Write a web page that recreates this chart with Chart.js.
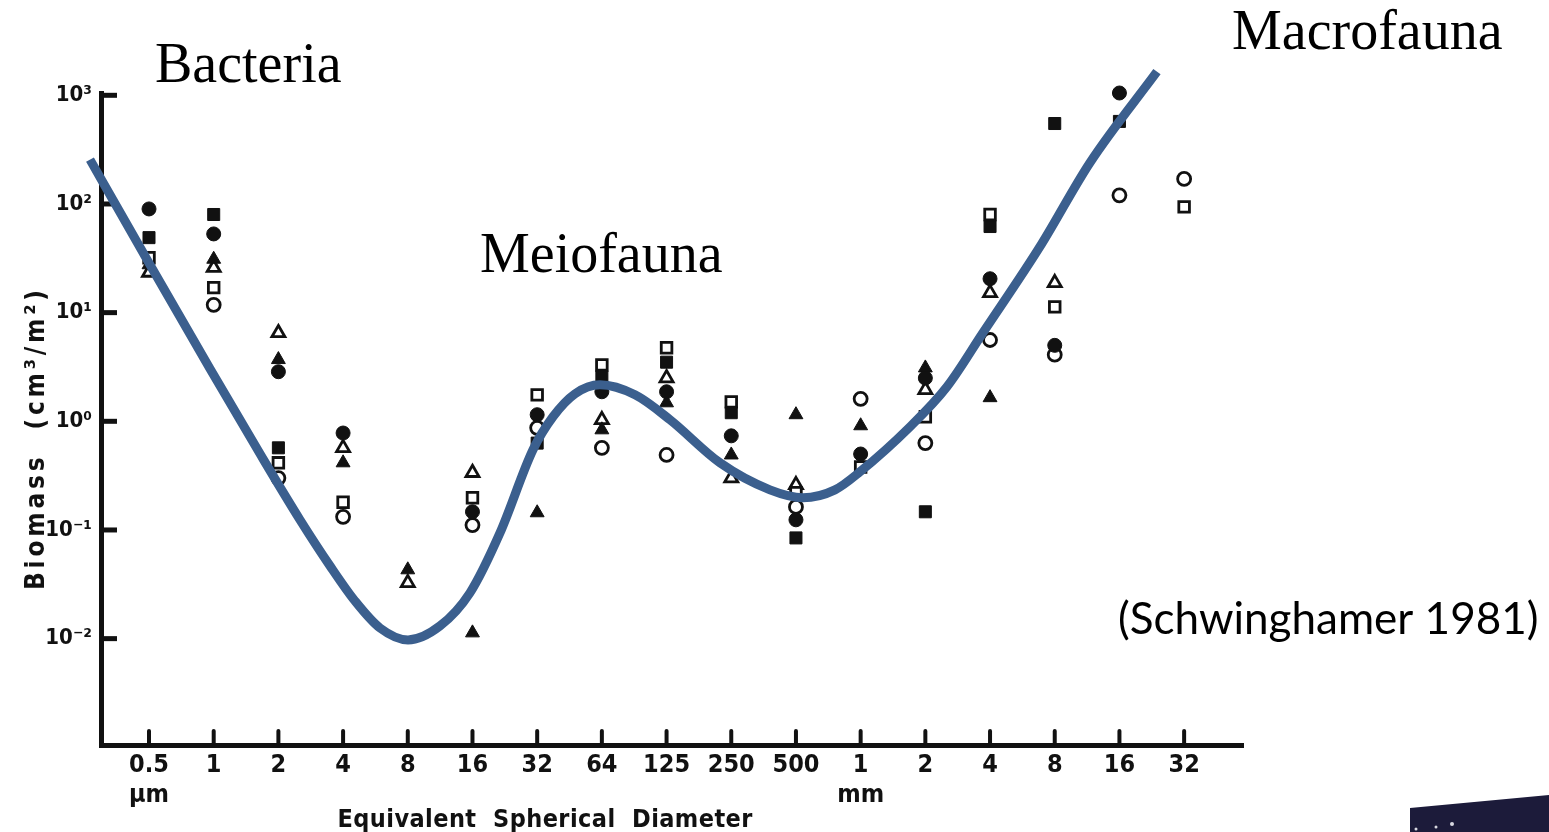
<!DOCTYPE html>
<html>
<head>
<meta charset="utf-8">
<script src="https://cdn.jsdelivr.net/npm/chart.js@4/dist/chart.umd.min.js"></script>
<style>
  html, body { margin: 0; padding: 0; background: #fff; }
  #wrap { width: 1549px; height: 832px; position: relative; }
</style>
</head>
<body>
<div id="wrap"><canvas id="c" width="1549" height="832"></canvas></div>
<script>
// Size classes (equivalent spherical diameter)
const categories = ['0.5', '1', '2', '4', '8', '16', '32', '64', '125', '250', '500', '1', '2', '4', '8', '16', '32'];
const unitLabels = { 0: 'µm', 11: 'mm' };

// Biomass decades on the y axis
const yTickValues = [0.01, 0.1, 1, 10, 100, 1000];
const yTickLabels = ['10⁻²', '10⁻¹', '10⁰', '10¹', '10²', '10³'];

// Biomass (cm3/m2) per size class, one array per station symbol
const filledCircle   = [90, 53, 2.86, 0.78, null, 0.147, 1.15, 1.87, 1.87, 0.735, 0.124, 0.50, 2.5, 20.5, 5.0, 1050, null];
const openCircle     = [null, 11.8, 0.30, 0.132, null, 0.111, 0.87, 0.57, 0.49, null, 0.163, 1.61, 0.63, 5.6, 4.1, 120, 170];
const filledSquare   = [49, 80, 0.57, null, null, null, 0.63, 2.57, 3.5, 1.2, 0.0845, null, 0.147, 62, 550, 575, null];
const openSquare     = [32, 17, 0.415, 0.18, null, 0.198, 1.75, 3.3, 4.75, 1.51, 0.22, 0.38, 1.1, 80, 11.3, null, 94];
const filledTriangle = [27.6, 31, 3.7, 0.415, 0.043, 0.0113, 0.144, 0.835, 1.48, 0.49, 1.15, 0.91, 3.1, 1.65, null, null, null];
const openTriangle   = [23.4, 25.9, 6.5, 0.57, 0.0326, 0.336, null, 1.03, 2.5, 0.30, 0.26, null, 1.95, 15.2, 18.8, null, null];

// Hand-fitted biomass spectrum curve (position along the size axis, biomass)
const curveSize    = [-0.912, 0.015, 0.943, 1.716, 2.334, 2.798, 3.184, 3.570, 4.003, 4.498, 4.961, 5.425, 5.935, 6.244, 6.584, 6.971, 7.512, 8.053, 8.825, 9.598, 10.108, 10.603, 10.989, 11.762, 12.334, 12.890, 13.771, 14.544, 15.580];
const curveBiomass = [256, 27.6, 3.04, 0.502, 0.124, 0.0467, 0.0222, 0.01253, 0.00973, 0.01309, 0.0264, 0.0940, 0.547, 1.10, 1.79, 2.168, 1.754, 1.033, 0.415, 0.234, 0.198, 0.234, 0.343, 0.889, 2.08, 6.53, 40.5, 240, 1652];

const INK = '#111';
const BLUE = '#3b5f8e';

function toPoints(arr) {
  const pts = [];
  arr.forEach((v, i) => { if (v !== null) pts.push({ x: i, y: v }); });
  return pts;
}

function markerSet(label, arr, style, filled, radius) {
  return {
    type: 'scatter',
    label: label,
    data: toPoints(arr),
    pointStyle: style,
    pointRadius: radius,
    pointHoverRadius: radius,
    pointBackgroundColor: filled ? INK : '#fff',
    pointBorderColor: INK,
    pointBorderWidth: filled ? 1 : 2.8,
    showLine: false,
    clip: false,
    order: 2
  };
}

// Draws text with letter spacing chosen so it spans the given width
function spacedText(ctx, text, cx, y, width) {
  ctx.letterSpacing = '0px';
  const w0 = ctx.measureText(text).width;
  const sp = Math.max(0, (width - w0) / (text.length - 1));
  ctx.letterSpacing = sp.toFixed(2) + 'px';
  ctx.textAlign = 'left';
  ctx.fillText(text, cx - width / 2, y);
  ctx.letterSpacing = '0px';
}

// Axis stubs, free text and the slide decorations
const decorations = {
  id: 'decorations',
  beforeDatasetsDraw(chart) {
    const { ctx, chartArea, scales } = chart;
    ctx.save();
    ctx.strokeStyle = INK;
    // y decade stubs pointing into the plot
    ctx.lineWidth = 5;
    ctx.lineCap = 'butt';
    yTickValues.forEach(v => {
      const y = scales.y.getPixelForValue(v);
      ctx.beginPath();
      ctx.moveTo(chartArea.left, y);
      ctx.lineTo(chartArea.left + 16, y);
      ctx.stroke();
    });
    // x size-class stubs
    ctx.lineWidth = 4;
    ctx.lineCap = 'round';
    categories.forEach((c, i) => {
      const x = scales.x.getPixelForValue(i);
      ctx.beginPath();
      ctx.moveTo(x, chartArea.bottom - 2);
      ctx.lineTo(x, chartArea.bottom - 14);
      ctx.stroke();
    });
    ctx.restore();
  },
  afterDraw(chart) {
    const { ctx } = chart;
    ctx.save();
    ctx.fillStyle = '#000';
    ctx.textBaseline = 'alphabetic';
    ctx.textAlign = 'left';
    ctx.font = '56px "Liberation Serif", serif';
    ctx.fillText('Bacteria', 155, 82);
    ctx.fillText('Meiofauna', 480, 272);
    ctx.fillText('Macrofauna', 1232, 49);

    ctx.font = '44px Lato, "Open Sans", sans-serif';
    ctx.fillText('(Schwinghamer 1981)', 1118, 634);

    // axis titles
    ctx.fillStyle = INK;
    ctx.font = 'bold 25px "DejaVu Sans Condensed", "DejaVu Sans", sans-serif';
    spacedText(ctx, 'Equivalent  Spherical  Diameter', 545, 827, 415);

    ctx.translate(37, 440);
    ctx.rotate(-Math.PI / 2);
    ctx.textBaseline = 'middle';
    ctx.font = 'bold 26px "DejaVu Sans Condensed", "DejaVu Sans", sans-serif';
    spacedText(ctx, 'Biomass  (cm³/m²)', 0, 0, 300);
    ctx.restore();

    // corner of the next slide element
    ctx.save();
    ctx.fillStyle = '#1c1b3a';
    ctx.beginPath();
    ctx.moveTo(1410, 808);
    ctx.lineTo(1549, 795);
    ctx.lineTo(1549, 832);
    ctx.lineTo(1410, 832);
    ctx.closePath();
    ctx.fill();
    ctx.fillStyle = '#d8d8e0';
    [[1416, 829, 1.5], [1436, 827, 1.5], [1452, 824, 2]].forEach(([x, y, r]) => {
      ctx.beginPath();
      ctx.arc(x, y, r, 0, Math.PI * 2);
      ctx.fill();
    });
    ctx.restore();
  }
};

const xTickFont = { family: '"DejaVu Sans Condensed", "DejaVu Sans", sans-serif', size: 25, weight: 'bold' };
const yTickFont = { family: '"DejaVu Sans Condensed", "DejaVu Sans", sans-serif', size: 22, weight: 'bold' };

new Chart(document.getElementById('c'), {
  data: {
    datasets: [
      {
        type: 'line',
        label: 'spectrum',
        data: curveSize.map((x, i) => ({ x: x, y: curveBiomass[i] })),
        borderColor: BLUE,
        borderWidth: 9,
        pointRadius: 0,
        fill: false,
        cubicInterpolationMode: 'monotone',
        borderCapStyle: 'butt',
        clip: false,
        order: 0
      },
      markerSet('filled circle', filledCircle, 'circle', true, 7),
      markerSet('filled square', filledSquare, 'rect', true, 8.5),
      markerSet('filled triangle', filledTriangle, 'triangle', true, 8),
      markerSet('open square', openSquare, 'rect', false, 7.5),
      markerSet('open triangle', openTriangle, 'triangle', false, 7.5),
      markerSet('open circle', openCircle, 'circle', false, 6.5)
    ]
  },
  options: {
    responsive: false,
    animation: false,
    events: [],
    layout: { padding: { left: 0, right: 306, top: 93, bottom: 0 } },
    plugins: { legend: { display: false }, tooltip: { enabled: false } },
    scales: {
      x: {
        type: 'linear',
        min: -0.742,
        max: 16.91,
        grid: { display: false, drawTicks: false },
        border: { display: true, color: INK, width: 5 },
        afterBuildTicks: s => { s.ticks = categories.map((c, i) => ({ value: i })); },
        afterFit: s => { s.height = 87; },
        ticks: {
          color: INK,
          font: xTickFont,
          padding: 5,
          maxRotation: 0,
          autoSkip: false,
          callback: v => {
            const i = Math.round(v);
            return unitLabels[i] ? [categories[i], unitLabels[i]] : categories[i];
          }
        }
      },
      y: {
        type: 'logarithmic',
        min: 0.00105,
        max: 1050,
        grid: { display: false, drawTicks: false },
        border: { display: true, color: INK, width: 5 },
        afterBuildTicks: s => { s.ticks = yTickValues.map(v => ({ value: v })); },
        afterFit: s => { s.width = 101; },
        ticks: {
          color: INK,
          font: yTickFont,
          padding: 9,
          autoSkip: false,
          callback: v => {
            const k = yTickValues.findIndex(t => Math.abs(Math.log10(t) - Math.log10(v)) < 1e-6);
            return k >= 0 ? yTickLabels[k] : '';
          }
        }
      }
    }
  },
  plugins: [decorations]
});
</script>
</body>
</html>
